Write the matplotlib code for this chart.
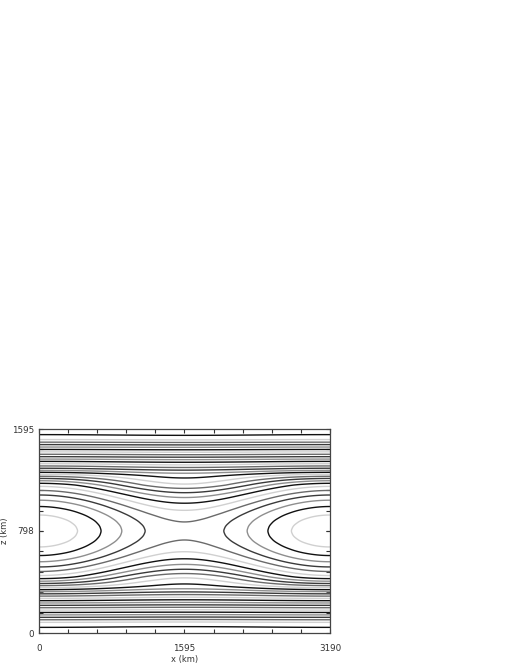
import numpy as np
import matplotlib.pyplot as plt
from matplotlib.ticker import MultipleLocator

# domain size (km)
x_len = 3190.0
z_len = 1595.0

z_prof = [0, 80, 160, 239, 319, 359, 399, 439, 479, 519, 559, 598, 638, 678,
          718, 758, 798, 838, 878, 918, 957, 997, 1037, 1077, 1117, 1157,
          1197, 1237, 1276, 1356, 1436, 1516, 1595]
f_prof = [25.5, 23.8, 19.6, 15.4, 11.2, 9.08, 7.5, 6.08, 4.8, 3.68, 2.7, 1.88,
          1.2, 0.68, 0.3, 0.08, 0.0, 0.08, 0.3, 0.68, 1.2, 1.88, 2.7, 3.68,
          4.8, 6.08, 7.5, 9.08, 11.2, 15.4, 19.6, 23.8, 25.5]
# strength of the cos(x) part at those heights (lobes at x=0, saddle at mid)
amp_prof = [0.06, 0.06, 0.06, 0.12, 0.4, 0.9, 1.7, 2.25, 2.25, 2.25, 2.25,
            2.25, 2.25, 2.25, 2.25, 2.25, 2.25, 2.25, 2.25, 2.25, 2.25, 2.25,
            2.25, 2.25, 2.25, 2.25, 1.7, 0.9, 0.4, 0.12, 0.06, 0.06, 0.06]

levels = np.arange(-1.5, 26.0, 1.0)
line_cols = ['#d0d0d0', '#111111', '#8e8e8e', '#3a3a3a', '#6a6a6a']

x_ticks = [0, 1595, 3190]
z_ticks = [0, 798, 1595]

x = np.linspace(0, x_len, 500)
z = np.linspace(0, z_len, 500)

# smooth the profile a little so the lobe tips are round
k = 9
kern = np.ones(k) / k
f_col = np.interp(z, z_prof, f_prof)
f_col = np.convolve(np.pad(f_col, k // 2, mode='edge'), kern, 'valid')
a_col = np.interp(z, z_prof, amp_prof)

X, Z = np.meshgrid(x, z)
psi = f_col[:, None] - a_col[:, None] * np.cos(2 * np.pi * X / x_len)

fig = plt.figure(figsize=(5.19, 6.71), dpi=100)
ax = fig.add_axes([0.0751, 0.0566, 0.5607, 0.3040])

cols = [line_cols[i % len(line_cols)] for i in range(len(levels))]
ax.contour(X, Z, psi, levels=levels, colors=cols, linewidths=1.0)

ax.set_xlim(0, x_len)
ax.set_ylim(0, z_len)
ax.set_xticks(x_ticks)
ax.set_yticks(z_ticks)
ax.xaxis.set_minor_locator(MultipleLocator(319))
ax.yaxis.set_minor_locator(MultipleLocator(159.5))
ax.tick_params(which='both', direction='in', top=True, right=True,
               length=3, width=0.8, color='#333333')
ax.tick_params(labelsize=6.3, labelcolor='#333333')
ax.tick_params(axis='x', pad=8)
for s in ax.spines.values():
    s.set_color('#444444')
    s.set_linewidth(0.9)

ax.set_xlabel('x (km)', fontsize=6, color='#333333', labelpad=1)
ax.set_ylabel('z (km)', fontsize=6, color='#333333', labelpad=2)

fig.savefig('out.png', dpi=100)
